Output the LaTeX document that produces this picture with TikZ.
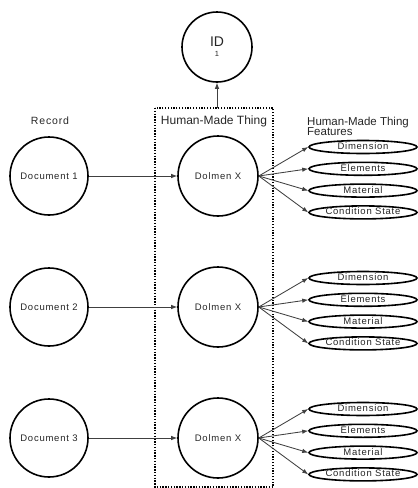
\documentclass[tikz,border=0pt]{standalone}
\usepackage{fontspec}
\setmainfont{Liberation Sans}
\newfontfamily\lsf[LetterSpace=8]{Liberation Sans}
\usetikzlibrary{arrows.meta,shapes.geometric}
\begin{document}
\begin{tikzpicture}[x=1pt,y=-1pt,
 circ/.style={circle,draw=black,line width=1.6pt,inner sep=0pt,font=\lsf\fontsize{9.5}{11}\selectfont,text=black!85},
 feat/.style={ellipse,draw=black,line width=1.6pt,inner sep=0pt,minimum width=108pt,minimum height=13pt,text height=6pt,text depth=1pt,font=\lsf\fontsize{9.5}{11}\selectfont,text=black!85},
 arr/.style={draw=black!75,line width=0.85pt,-{Latex[length=6pt,width=4.5pt]}},
 lbl/.style={inner sep=0pt,font=\fontsize{12}{12}\selectfont,text=black!85}]
\useasboundingbox (0,0) rectangle (418,488);
% container box
\draw[line width=1.3pt,dash pattern=on 1.3pt off 1.5pt] (155,108) rectangle (273,487);
\coordinate (boxtop) at (217,108);
% ID
\node[circle,draw=black,line width=1.6pt,minimum size=70pt,inner sep=0pt,align=center,text=black!85] (id) at (217,47)
  {{\fontsize{14}{14}\selectfont ID}\\[-2pt]{\fontsize{7.5}{7.5}\selectfont 1}};
\draw[arr] (boxtop) -- (id);
% labels
\node[lbl,anchor=base] (hmt) at (214,124) {Human-Made Thing};
\node[inner sep=0pt,anchor=base,font=\lsf\fontsize{10.5}{12}\selectfont,text=black!85] (rec) at (50,124) {Record};
\node[lbl,anchor=base west,font=\fontsize{11.5}{12}\selectfont] (hf1) at (307,125) {Human-Made Thing};
\node[lbl,anchor=base west,font=\fontsize{11.5}{12}\selectfont] (hf2) at (307,135.5) {Features};
% rows
\foreach \i/\y in {1/176,2/307,3/438}{
  \node[circ,minimum size=78pt] (doc\i) at (49,\y) {Document \i};
  \node[circ,minimum size=80pt] (dol\i) at (218,\y) {Dolmen X};
  \draw[arr] (doc\i) -- (dol\i);
  \foreach \j/\dy/\t in {a/-29/Dimension,b/-7.2/Elements,c/14.6/Material,d/36.4/Condition State}{
    \node[feat] (f\i\j) at (363,\y+\dy) {\t};
    \draw[arr] (dol\i.east) -- (f\i\j.west);
  }
}
\end{tikzpicture}
\end{document}
